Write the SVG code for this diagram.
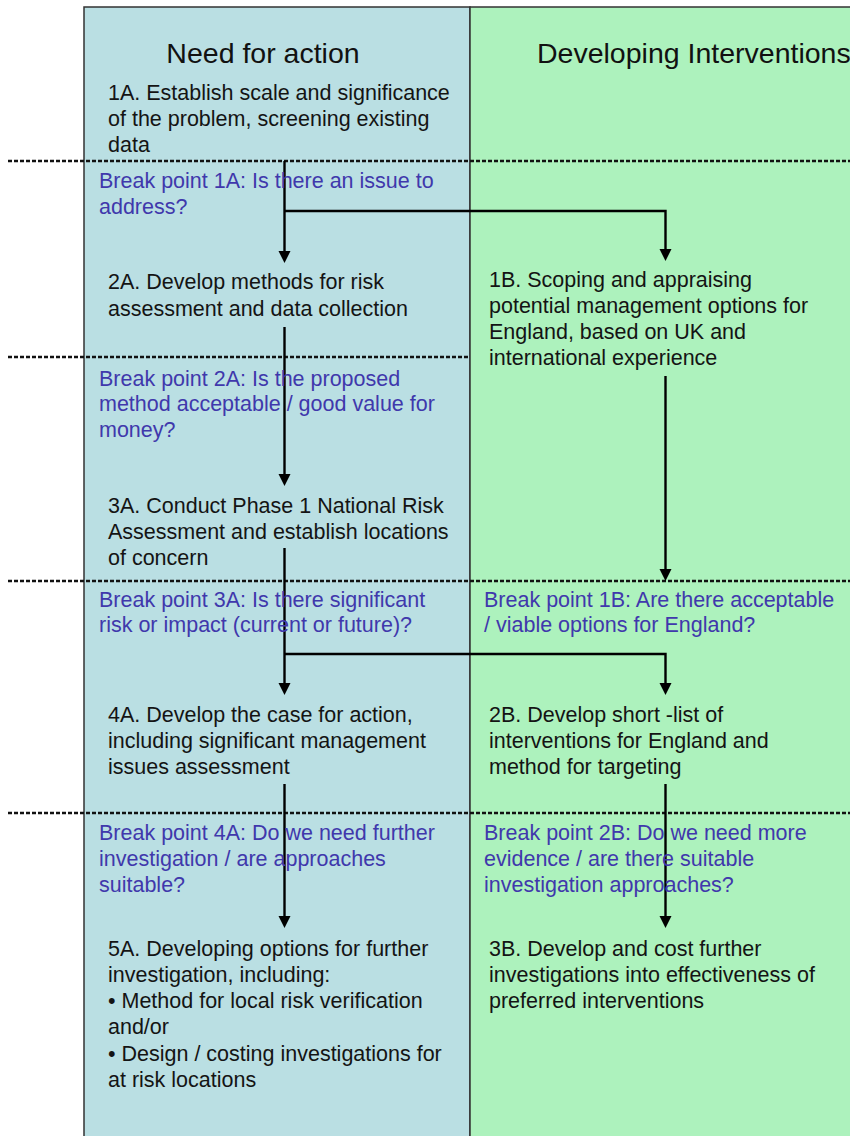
<svg xmlns="http://www.w3.org/2000/svg" width="850" height="1136" viewBox="0 0 850 1136">
<defs>
<style>
.t{font-family:"Liberation Sans",Arial,sans-serif;font-size:21.5px;fill:#141414}
.b{font-family:"Liberation Sans",Arial,sans-serif;font-size:21.5px;fill:#4038AC}
.h{font-family:"Liberation Sans",Arial,sans-serif;font-size:28.5px;fill:#111}
.dash{stroke:#111;stroke-width:2.4;stroke-dasharray:4 2;fill:none}
.c{stroke:#000;stroke-width:2.4;fill:none}
</style>
<marker id="ah" markerUnits="userSpaceOnUse" markerWidth="14" markerHeight="14" refX="1" refY="6" orient="auto">
<path d="M0,0 L12,6 L0,12 z" fill="#000"/>
</marker>
</defs>
<rect width="850" height="1136" fill="#fff"/>
<g id="lanes">
<rect x="84" y="7" width="386" height="1140" fill="#BADFE3" stroke="#333" stroke-width="1.5"/>
<rect x="470" y="7" width="400" height="1140" fill="#ADF2BD" stroke="#333" stroke-width="1.5"/>
<text class="h" x="263" y="63" text-anchor="middle">Need for action</text>
<text class="h" x="537" y="63">Developing Interventions</text>
</g>
<g id="breaklines">
<line class="dash" x1="8" y1="161" x2="850" y2="161"/>
<line class="dash" x1="8" y1="357" x2="470" y2="357"/>
<line class="dash" x1="8" y1="581" x2="850" y2="581"/>
<line class="dash" x1="8" y1="813" x2="850" y2="813"/>
</g>
<g id="connectors">
<path class="c" d="M284.5 161 V252" marker-end="url(#ah)"/>
<path class="c" d="M284.5 211 H665.5 V250" marker-end="url(#ah)"/>
<path class="c" d="M284.5 327 V475" marker-end="url(#ah)"/>
<path class="c" d="M665.5 376 V570" marker-end="url(#ah)"/>
<path class="c" d="M284.5 548 V684" marker-end="url(#ah)"/>
<path class="c" d="M284.5 654 H665.5 V684" marker-end="url(#ah)"/>
<path class="c" d="M284.5 784 V917" marker-end="url(#ah)"/>
<path class="c" d="M665.5 784 V917" marker-end="url(#ah)"/>
</g>
<g id="n1A">
<text class="t" x="108" y="100">1A. Establish scale and significance</text>
<text class="t" x="108" y="126">of the problem, screening existing</text>
<text class="t" x="108" y="152">data</text>
</g>
<g id="bp1A">
<text class="b" x="99" y="188">Break point 1A: Is there an issue to</text>
<text class="b" x="99" y="214">address?</text>
</g>
<g id="n2A">
<text class="t" x="108" y="289">2A. Develop methods for risk</text>
<text class="t" x="108" y="316">assessment and data collection</text>
</g>
<g id="n1B">
<text class="t" x="489" y="287">1B. Scoping and appraising</text>
<text class="t" x="489" y="313">potential management options for</text>
<text class="t" x="489" y="339">England, based on UK and</text>
<text class="t" x="489" y="365">international experience</text>
</g>
<g id="bp2A">
<text class="b" x="99" y="386">Break point 2A: Is the proposed</text>
<text class="b" x="99" y="411">method acceptable / good value for</text>
<text class="b" x="99" y="437">money?</text>
</g>
<g id="n3A">
<text class="t" x="108" y="513">3A. Conduct Phase 1 National Risk</text>
<text class="t" x="108" y="539">Assessment and establish locations</text>
<text class="t" x="108" y="565">of concern</text>
</g>
<g id="bp3A">
<text class="b" x="99" y="607">Break point 3A: Is there significant</text>
<text class="b" x="99" y="632">risk or impact (current or future)?</text>
</g>
<g id="bp1B">
<text class="b" x="484" y="607">Break point 1B: Are there acceptable</text>
<text class="b" x="484" y="632">/ viable options for England?</text>
</g>
<g id="n4A">
<text class="t" x="108" y="722">4A. Develop the case for action,</text>
<text class="t" x="108" y="748">including significant management</text>
<text class="t" x="108" y="774">issues assessment</text>
</g>
<g id="n2B">
<text class="t" x="489" y="722">2B. Develop short -list of</text>
<text class="t" x="489" y="748">interventions for England and</text>
<text class="t" x="489" y="774">method for targeting</text>
</g>
<g id="bp4A">
<text class="b" x="99" y="840">Break point 4A: Do we need further</text>
<text class="b" x="99" y="866">investigation / are approaches</text>
<text class="b" x="99" y="892">suitable?</text>
</g>
<g id="bp2B">
<text class="b" x="484" y="840">Break point 2B: Do we need more</text>
<text class="b" x="484" y="866">evidence / are there suitable</text>
<text class="b" x="484" y="892">investigation approaches?</text>
</g>
<g id="n5A">
<text class="t" x="108" y="956">5A. Developing options for further</text>
<text class="t" x="108" y="982">investigation, including:</text>
<text class="t" x="108" y="1008">• Method for local risk verification</text>
<text class="t" x="108" y="1034">and/or</text>
<text class="t" x="108" y="1061">• Design / costing investigations for</text>
<text class="t" x="108" y="1087">at risk locations</text>
</g>
<g id="n3B">
<text class="t" x="489" y="956">3B. Develop and cost further</text>
<text class="t" x="489" y="982">investigations into effectiveness of</text>
<text class="t" x="489" y="1008">preferred interventions</text>
</g>
</svg>
